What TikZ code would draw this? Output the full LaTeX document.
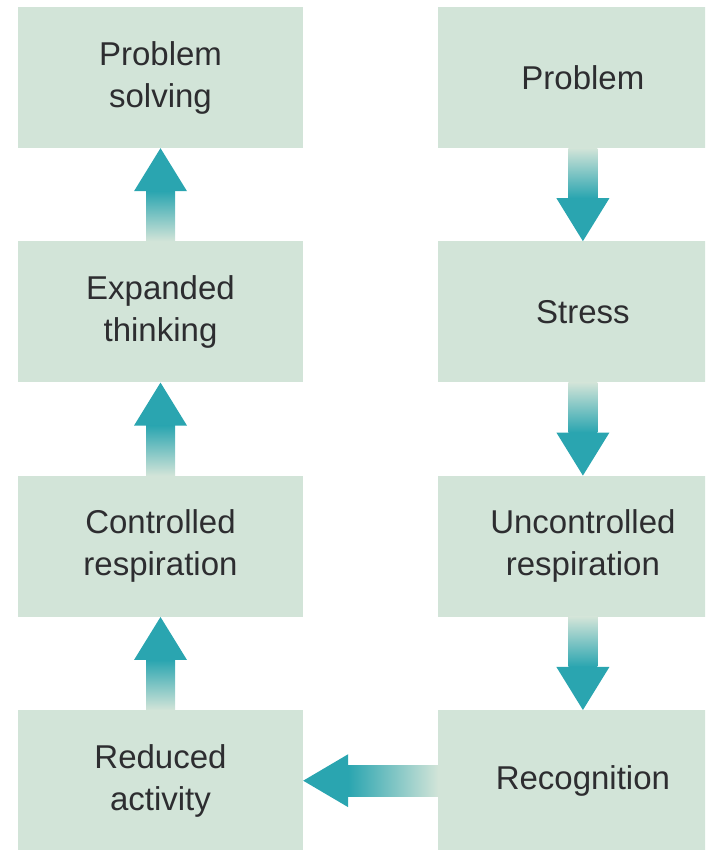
\documentclass[tikz,border=0pt]{standalone}
\usepackage{fontspec}
\setmainfont{Liberation Sans}
\usetikzlibrary{positioning}

\definecolor{boxfill}{RGB}{210,228,216}
\definecolor{flowteal}{RGB}{42,165,176}
\definecolor{boxtext}{RGB}{45,45,48}

% faded arrows between stages
\newcommand{\flowdown}[2]{%
    \shade[top color=boxfill, bottom color=flowteal] ([xshift=-14.5pt]#1.south) rectangle ([xshift=14.5pt,yshift=43pt]#2.north);
    \fill[flowteal] ([xshift=-26.5pt,yshift=43pt]#2.north) -- ([xshift=26.5pt,yshift=43pt]#2.north) -- (#2.north) -- cycle;}
\newcommand{\flowup}[2]{%
    \shade[bottom color=boxfill, top color=flowteal] ([xshift=-14.5pt]#1.north) rectangle ([xshift=14.5pt,yshift=-43pt]#2.south);
    \fill[flowteal] ([xshift=-26.5pt,yshift=-43pt]#2.south) -- ([xshift=26.5pt,yshift=-43pt]#2.south) -- (#2.south) -- cycle;}
\newcommand{\flowleft}[2]{%
    \shade[right color=boxfill, left color=flowteal] ([yshift=-15.5pt]#1.west) rectangle ([xshift=45pt,yshift=15.5pt]#2.east);
    \fill[flowteal] ([xshift=45pt,yshift=-26.5pt]#2.east) -- ([xshift=45pt,yshift=26.5pt]#2.east) -- (#2.east) -- cycle;}

\begin{document}
\begin{tikzpicture}[
    x=1pt, y=1pt,
    stagebox/.style={fill=boxfill, text=boxtext, minimum height=141pt, inner sep=0pt,
        align=center, font=\fontsize{33}{42}\selectfont},
    node distance=93pt and 135pt
    ]
    \useasboundingbox (0,0) rectangle (705,850);
    \clip (0,0) rectangle (705,850);

    %Nodes
    \node[stagebox, minimum width=285pt] (solving) at (160.5,772.5) {Problem\\solving};
    \node[stagebox, minimum width=285pt] (expanded) [below=of solving] {Expanded\\thinking};
    \node[stagebox, minimum width=285pt] (controlled) [below=of expanded] {Controlled\\respiration};
    \node[stagebox, minimum width=285pt] (reduced) [below=of controlled] {Reduced\\activity};

    \node[stagebox, minimum width=289pt] (problem) [right=of solving] {Problem};
    \node[stagebox, minimum width=289pt] (stress) [below=of problem] {Stress};
    \node[stagebox, minimum width=289pt] (uncontrolled) [below=of stress] {Uncontrolled\\respiration};
    \node[stagebox, minimum width=289pt] (recognition) [below=of uncontrolled] {Recognition};

    %Arrows
    \flowdown{problem}{stress}
    \flowdown{stress}{uncontrolled}
    \flowdown{uncontrolled}{recognition}
    \flowleft{recognition}{reduced}
    \flowup{reduced}{controlled}
    \flowup{controlled}{expanded}
    \flowup{expanded}{solving}

\end{tikzpicture}
\end{document}
